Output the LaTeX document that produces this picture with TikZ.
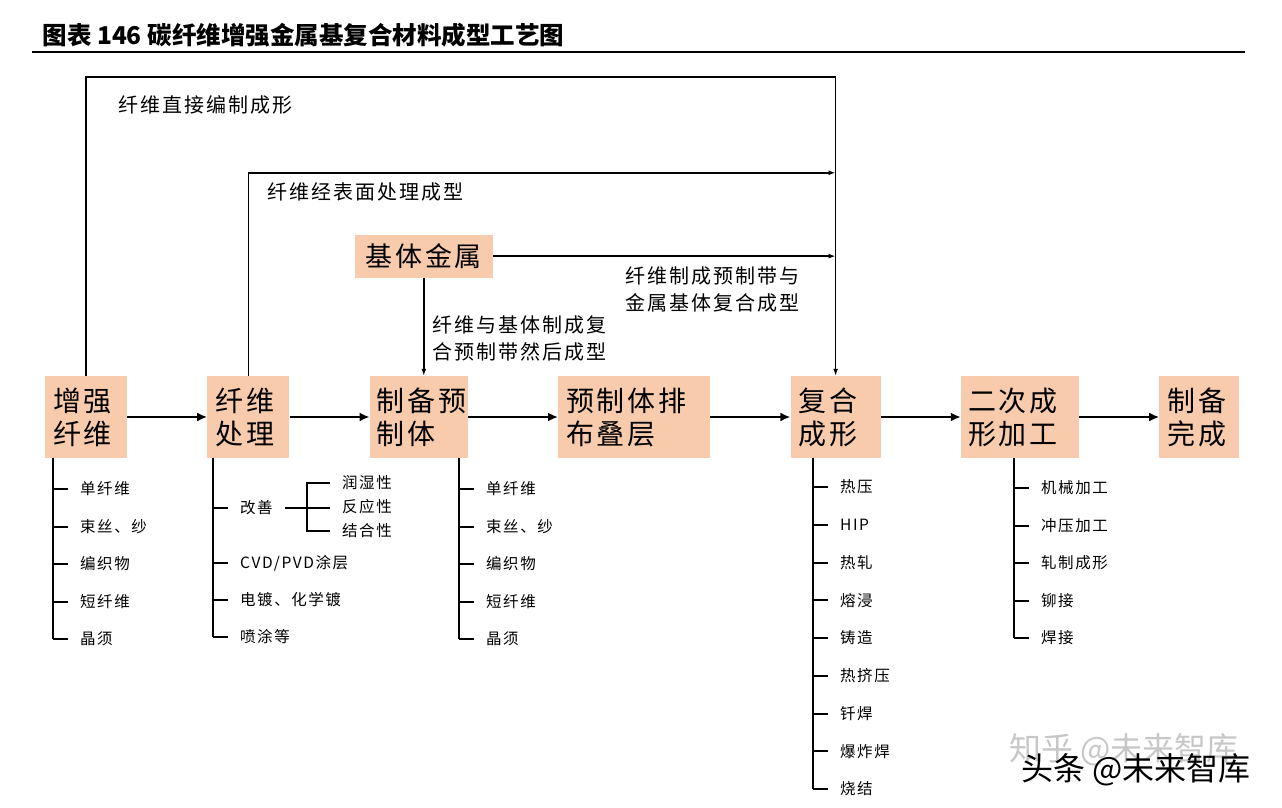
\documentclass[tikz,border=0pt]{standalone}
\usepackage{fontspec}
\setmainfont{Noto Sans CJK SC}
\newfontfamily\spaced{Noto Sans CJK SC}[LetterSpace=10]
\usetikzlibrary{arrows.meta, positioning}
\definecolor{boxfill}{RGB}{248,203,173}

\begin{document}
\begin{tikzpicture}[
      x=1pt, y=-1pt,
      node distance=80pt,
      box/.style={
          rectangle,
          fill=boxfill,
          align=left,
          inner xsep=8pt,
          inner ysep=0pt,
          minimum height=82pt,
          font=\spaced\fontsize{28}{33}\selectfont
        },
      lbl/.style={
          anchor=west,
          align=left,
          font=\spaced\fontsize{20}{27}\selectfont
        },
      item/.style={
          anchor=west,
          inner xsep=12pt,
          inner ysep=0pt,
          font=\spaced\fontsize{15.5}{18}\selectfont
        },
      arrow/.style={
          -{Latex[length=10pt,width=9pt]},
          line width=2.4pt
        },
      thinarrow/.style={
          -{Latex[length=7pt,width=5pt]},
          line width=1.5pt
        },
      tick/.style={
          line width=2pt
        }
    ]
    \useasboundingbox (0,0) rectangle (1282,808);

    % Title
    \node[anchor=west, font=\bfseries\fontsize{24.5}{28}\selectfont] (title) at (39,35) {图表 146 碳纤维增强金属基复合材料成型工艺图};
    \draw[line width=2pt] (32,52) -- (1245,52);

    % Nodes
    \node[box, minimum width=82pt, text width=66pt] (zqxw) at (86,417) {增强\\纤维};
    \node[box, minimum width=82pt, text width=66pt, right=of zqxw] (xwcl) {纤维\\处理};
    \node[box, minimum width=98pt, text width=84pt, inner xsep=7pt, right=of xwcl] (zbyzt) {制备预\\制体};
    \node[box, minimum width=152pt, text width=136pt, right=90pt of zbyzt] (yztpb) {预制体排\\布叠层};
    \node[box, minimum width=90pt, text width=74pt, right=of yztpb] (fhcx) {复合\\成形};
    \node[box, minimum width=118pt, text width=104pt, inner xsep=7pt, right=of fhcx] (ecjg) {二次成\\形加工};
    \node[box, minimum width=80pt, text width=64pt, right=of ecjg] (zbwc) {制备\\完成};
    \node[box, minimum width=138pt, minimum height=43pt, align=center, font=\spaced\fontsize{27}{32}\selectfont,
          above=98pt of zbyzt, xshift=5pt] (jtjs) {基体金属};

    % Labels
    \node[lbl] (l1) at (115,105) {纤维直接编制成形};
    \node[lbl] (l2) at (264,192) {纤维经表面处理成型};
    \node[lbl] (l3) at (622,289) {纤维制成预制带与\\金属基体复合成型};
    \node[lbl] (l4) at (429,338) {纤维与基体制成复\\合预制带然后成型};

    % Arrows
    \draw[arrow] (zqxw) -- (xwcl);
    \draw[arrow] (xwcl) -- (zbyzt);
    \draw[arrow] (zbyzt) -- (yztpb);
    \draw[arrow] (yztpb) -- (fhcx);
    \draw[arrow] (fhcx) -- (ecjg);
    \draw[arrow] (ecjg) -- (zbwc);
    \draw[thinarrow] (zqxw.north) -- ++(0,-299) -| (fhcx.north);
    \draw[thinarrow] (xwcl.north) -- ++(0,-203) coordinate (b1) -- (b1 -| fhcx.north);
    \draw[thinarrow] (jtjs.east) -- (jtjs.east -| fhcx.north);
    \draw[thinarrow] (jtjs.south) -- (jtjs.south |- zbyzt.north);

    % Lists
    \foreach \t [count=\i] in {单纤维,束丝、纱,编织物,短纤维,晶须}{
        \node[item] (a\i) at (68,451.5+37.5*\i) {\t};
        \draw[tick] (a\i.west) -- ++(-15,0) coordinate (ta\i);
      }
    \draw[tick] (zqxw.south -| ta1) -- (ta5);

    \node[item] (gs) at (228,508) {改善};
    \node[item] (cvd) at (228,563) {CVD/PVD涂层};
    \node[item] (dd) at (228,600) {电镀、化学镀};
    \node[item] (pt) at (228,637) {喷涂等};
    \foreach \n in {gs,cvd,dd,pt}
      \draw[tick] (\n.west) -- ++(-15,0) coordinate (t\n);
    \draw[tick] (xwcl.south -| tgs) -- (tpt);
    \node[item] (rs) at (330,483) {润湿性};
    \node[item] (fy) at (330,507) {反应性};
    \node[item] (jh) at (330,531) {结合性};
    \draw[tick] (gs.east) -- (gs.east -| fy.west);
    \draw[tick] (rs.west) -- ++(-23,0) |- (jh.west);

    \foreach \t [count=\i] in {单纤维,束丝、纱,编织物,短纤维,晶须}{
        \node[item] (b\i) at (474,451.5+37.5*\i) {\t};
        \draw[tick] (b\i.west) -- ++(-15,0) coordinate (tb\i);
      }
    \draw[tick] (zbyzt.south -| tb1) -- (tb5);

    \foreach \t [count=\i] in {热压,HIP,热轧,熔浸,铸造,热挤压,钎焊,爆炸焊,烧结}{
        \node[item] (c\i) at (828,449.25+37.75*\i) {\t};
        \draw[tick] (c\i.west) -- ++(-15,0) coordinate (tc\i);
      }
    \draw[tick] (fhcx.south -| tc1) -- (tc9);

    \foreach \t [count=\i] in {机械加工,冲压加工,轧制成形,铆接,焊接}{
        \node[item] (d\i) at (1029,450.5+37.5*\i) {\t};
        \draw[tick] (d\i.west) -- ++(-15,0) coordinate (td\i);
      }
    \draw[tick] (ecjg.south -| td1) -- (td5);

    % Watermarks
    \node[anchor=west, text=black!22, font=\fontsize{32}{36}\selectfont] (wm1) at (1006,750) {知乎 @未来智库};
    \node[anchor=west, font=\fontsize{32}{36}\selectfont] (wm2) at (1018,770) {头条 @未来智库};

  \end{tikzpicture}
\end{document}
